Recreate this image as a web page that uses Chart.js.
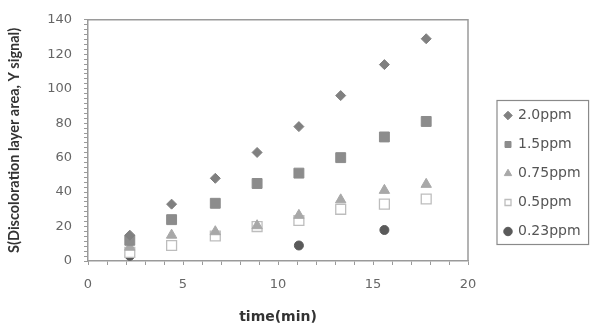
<!DOCTYPE html>
<html>
<head>
<meta charset="utf-8">
<script src="https://cdn.jsdelivr.net/npm/chart.js@4/dist/chart.umd.min.js"></script>
<style>
  html, body { margin: 0; padding: 0; background: #fff; }
  #wrap { width: 592px; height: 330px; }
</style>
</head>
<body>
<div id="wrap"><canvas id="c"></canvas></div>
<script>
// sampling times (min)
const times = [2.2, 4.4, 6.7, 8.9, 11.1, 13.3, 15.6, 17.8];
const timesLow = [2.2, 11.1, 15.6];

// signal values
const s20 = [15, 33, 48, 63, 78, 96, 114, 129];
const s15 = [12, 24, 33.5, 45, 51, 60, 72, 81];
const s075 = [8, 15, 17, 20.5, 26.5, 35.5, 41, 44.5];
const s05 = [5, 9, 14.5, 20, 23.5, 30, 33, 36];
const s023 = [3, 9, 18];

const seriesNames = ["2.0ppm", "1.5ppm", "0.75ppm", "0.5ppm", "0.23ppm"];

function pts(xs, ys) {
    return xs.map((x, i) => ({ x: x, y: ys[i] }));
}

// frame round the plot area and box round the legend
const boxes = {
    id: 'boxes',
    afterDraw(chart) {
        const ctx = chart.ctx;
        const a = chart.chartArea;
        ctx.save();
        ctx.strokeStyle = '#9a9a9a';
        ctx.lineWidth = 1.5;
        ctx.beginPath();
        ctx.moveTo(a.left, a.top);
        ctx.lineTo(a.right, a.top);
        ctx.lineTo(a.right, a.bottom);
        ctx.stroke();

        const hb = chart.legend.legendHitBoxes;
        if (hb && hb.length) {
            let x0 = Infinity, y0 = Infinity, x1 = -Infinity, y1 = -Infinity;
            hb.forEach(b => {
                x0 = Math.min(x0, b.left); y0 = Math.min(y0, b.top);
                x1 = Math.max(x1, b.left + b.width); y1 = Math.max(y1, b.top + b.height);
            });
            ctx.strokeStyle = '#8a8a8a';
            ctx.lineWidth = 1.2;
            ctx.strokeRect(x0 - 8, y0 - 8, (x1 - x0) + 16, (y1 - y0) + 14);
        }
        ctx.restore();
    }
};

const ctx = document.getElementById('c').getContext('2d');
new Chart(ctx, {
    type: 'scatter',
    data: {
        datasets: [
            { label: seriesNames[0], data: pts(times, s20), pointStyle: 'rectRot', radius: 5,
              backgroundColor: '#808080', borderColor: '#808080', borderWidth: 1 },
            { label: seriesNames[1], data: pts(times, s15), pointStyle: 'rect', radius: 7,
              backgroundColor: '#8c8c8c', borderColor: '#8c8c8c', borderWidth: 1 },
            { label: seriesNames[2], data: pts(times, s075), pointStyle: 'triangle', radius: 6,
              backgroundColor: '#a8a8a8', borderColor: '#a8a8a8', borderWidth: 1 },
            { label: seriesNames[3], data: pts(times, s05), pointStyle: 'rect', radius: 7,
              backgroundColor: '#ffffff', borderColor: '#bdbdbd', borderWidth: 1.3 },
            { label: seriesNames[4], data: pts(timesLow, s023), pointStyle: 'circle', radius: 4.5,
              backgroundColor: '#5a5a5a', borderColor: '#5a5a5a', borderWidth: 1 }
        ]
    },
    options: {
        responsive: true,
        maintainAspectRatio: false,
        animation: false,
        layout: { padding: { top: 17, right: 4, left: 0, bottom: 0 } },
        plugins: {
            tooltip: { enabled: false },
            legend: {
                position: 'right',
                align: 'center',
                labels: {
                    usePointStyle: true,
                    boxWidth: 6,
                    boxHeight: 6,
                    padding: 15,
                    color: '#555',
                    font: { family: 'DejaVu Sans', size: 14 }
                }
            }
        },
        scales: {
            x: {
                type: 'linear',
                min: 0, max: 20,
                afterFit(s) { s.height = 69; },
                border: { color: '#9a9a9a', width: 1.5 },
                grid: { drawOnChartArea: false, tickLength: 4, color: '#9a9a9a', lineWidth: 1 },
                ticks: {
                    stepSize: 1,
                    autoSkip: false,
                    maxRotation: 0,
                    padding: 12,
                    color: '#666',
                    font: { family: 'DejaVu Sans', size: 13 },
                    callback: v => (Math.abs(v % 5) < 1e-6 ? v : '')
                },
                title: {
                    display: true,
                    text: 'time(min)',
                    color: '#333',
                    font: { family: 'DejaVu Sans', size: 14, weight: 'bold' },
                    padding: { top: 11 }
                }
            },
            y: {
                min: 0, max: 140,
                afterFit(s) { s.width = 88; },
                border: { color: '#9a9a9a', width: 1.5 },
                grid: { drawOnChartArea: false, tickLength: 4, color: '#9a9a9a', lineWidth: 1 },
                ticks: {
                    stepSize: 20 / 7,
                    autoSkip: false,
                    padding: 12,
                    color: '#666',
                    font: { family: 'DejaVu Sans', size: 13 },
                    callback: v => {
                        const r = Math.round(v / 20) * 20;
                        return Math.abs(v - r) < 1e-6 ? r : '';
                    }
                },
                title: {
                    display: true,
                    text: 'S(Discoloration layer area, Y signal)',
                    color: '#333',
                    font: { family: 'Lato', size: 14.5, weight: 'bold' },
                    padding: { top: 6, bottom: 4 }
                }
            },
            // empty right axis: keeps the gap between plot and legend
            yGap: {
                position: 'right',
                display: true,
                afterFit(s) { s.width = 22; },
                border: { display: false },
                grid: { display: false },
                ticks: { display: false }
            }
        }
    },
    plugins: [boxes]
});
</script>
</body>
</html>
